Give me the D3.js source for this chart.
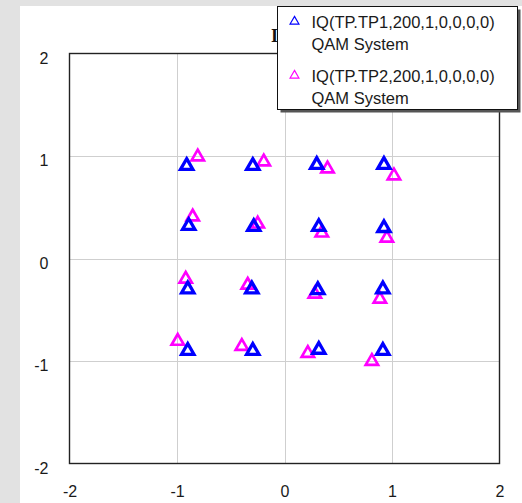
<!DOCTYPE html>
<html>
<head>
<meta charset="utf-8">
<script src="https://cdn.jsdelivr.net/npm/d3@7"></script>
<style>
  html, body { margin: 0; padding: 0; background: #e2e2e2; }
  svg { display: block; }
</style>
</head>
<body>
<svg id="chart" width="522" height="503"></svg>
<script>
// Constellation points (I, Q) for the two test points
const tp1I = [-0.91, -0.295, 0.30, 0.925,  -0.891, -0.286, 0.319, 0.925,  -0.90, -0.304, 0.31, 0.915,  -0.90, -0.295, 0.319, 0.915];
const tp1Q = [0.914, 0.914, 0.924, 0.924,  0.328, 0.318, 0.318, 0.308,  -0.29, -0.29, -0.298, -0.29,  -0.89, -0.89, -0.88, -0.89];
const tp2I = [-0.807, -0.193, 0.40, 1.018,  -0.854, -0.249, 0.347, 0.952,  -0.919, -0.342, 0.282, 0.887,  -0.993, -0.397, 0.217, 0.813];
const tp2Q = [1.002, 0.954, 0.885, 0.817,  0.416, 0.347, 0.259, 0.21,  -0.191, -0.25, -0.337, -0.386,  -0.797, -0.846, -0.915, -0.993];

const seriesNames = ["IQ(TP.TP1,200,1,0,0,0,0)", "IQ(TP.TP2,200,1,0,0,0,0)"];
const seriesSub = ["QAM System", "QAM System"];
const seriesColors = ["#0000ff", "#ff00ff"];
const xTicks = [-2, -1, 0, 1, 2];
const yTicks = [-2, -1, 0, 1, 2];
const titleText = "IQ";

const svg = d3.select("#chart");
const W = 522, H = 503;

// white panel
svg.append("rect").attr("x", 20).attr("y", 6).attr("width", W - 20).attr("height", H - 6).attr("fill", "#ffffff");

const plot = { left: 69.5, right: 499.5, top: 53.5, bottom: 463.5 };
const x = d3.scaleLinear().domain([-2, 2]).range([plot.left, plot.right]);
const y = d3.scaleLinear().domain([-2, 2]).range([plot.bottom, plot.top]);

// title (partly beneath the legend)
svg.append("text").attr("x", 271).attr("y", 42)
  .attr("font-family", "Liberation Serif, Times New Roman, serif")
  .attr("font-weight", "bold").attr("font-size", 18).attr("fill", "#111")
  .text(titleText);

// grid
const grid = svg.append("g");
grid.selectAll("line.v").data(xTicks.slice(1, -1)).join("line")
  .attr("x1", d => Math.round(x(d)) + 0.5).attr("x2", d => Math.round(x(d)) + 0.5)
  .attr("y1", plot.top).attr("y2", plot.bottom)
  .attr("stroke", "#cfcfcf").attr("stroke-width", 1);
grid.selectAll("line.h").data(yTicks.slice(1, -1)).join("line")
  .attr("y1", d => Math.round(y(d)) + 0.5).attr("y2", d => Math.round(y(d)) + 0.5)
  .attr("x1", plot.left).attr("x2", plot.right)
  .attr("stroke", "#cfcfcf").attr("stroke-width", 1);

// axes (labels only; the frame is drawn separately); plain hyphen for negatives
const fmt = d => String(d);
const xAxis = svg.append("g").attr("transform", `translate(0,${plot.bottom})`)
  .call(d3.axisBottom(x).tickValues(xTicks).tickSize(0).tickPadding(22).tickFormat(fmt));
const yAxis = svg.append("g").attr("transform", `translate(${plot.left},0)`)
  .call(d3.axisLeft(y).tickValues(yTicks).tickSize(0).tickPadding(21).tickFormat(fmt));
[xAxis, yAxis].forEach(a => {
  a.select(".domain").remove();
  a.selectAll("text").attr("font-family", "Liberation Sans, Arial, sans-serif")
    .attr("font-size", 16).attr("fill", "#1a1a1a");
});
yAxis.selectAll("text").attr("dy", "0.6em");

// frame
svg.append("rect").attr("x", plot.left).attr("y", plot.top)
  .attr("width", plot.right - plot.left).attr("height", plot.bottom - plot.top)
  .attr("fill", "none").attr("stroke", "#222").attr("stroke-width", 1.4);

// triangle marker
const tri = d3.symbol().type(d3.symbolTriangle).size(66);

const series = [
  d3.zip(tp1I, tp1Q),
  d3.zip(tp2I, tp2Q)
];

// draw TP2 first, then TP1 on top of it where they overlap
[1, 0].forEach(si => {
  svg.append("g").selectAll("path").data(series[si]).join("path")
    .attr("d", tri)
    .attr("transform", d => `translate(${x(d[0])},${y(d[1]) + 1})`)
    .attr("fill", "none").attr("stroke", seriesColors[si])
    .attr("stroke-width", si === 0 ? 3.3 : 2.7)
    .attr("stroke-linejoin", "miter");
});

// legend
const lg = svg.append("g");
const L = { x: 277.5, y: 6.5, w: 240, h: 103 };
lg.append("rect").attr("x", L.x + 3).attr("y", L.y + 3).attr("width", L.w).attr("height", L.h).attr("fill", "#555");
lg.append("rect").attr("x", L.x).attr("y", L.y).attr("width", L.w).attr("height", L.h)
  .attr("fill", "#fff").attr("stroke", "#111").attr("stroke-width", 1);
seriesNames.forEach((name, i) => {
  const top = L.y + 8 + i * 54;
  lg.append("path").attr("d", d3.symbol().type(d3.symbolTriangle).size(34))
    .attr("transform", `translate(${L.x + 17},${top + 7})`)
    .attr("fill", "none").attr("stroke", seriesColors[i]).attr("stroke-width", 1.2);
  lg.append("text").attr("x", L.x + 34).attr("y", top + 13)
    .attr("font-family", "Liberation Sans, Arial, sans-serif").attr("font-size", 16.5).attr("fill", "#1a1a1a")
    .text(name);
  lg.append("text").attr("x", L.x + 34).attr("y", top + 35)
    .attr("font-family", "Liberation Sans, Arial, sans-serif").attr("font-size", 16.5).attr("fill", "#1a1a1a")
    .text(seriesSub[i]);
});
</script>
</body>
</html>
